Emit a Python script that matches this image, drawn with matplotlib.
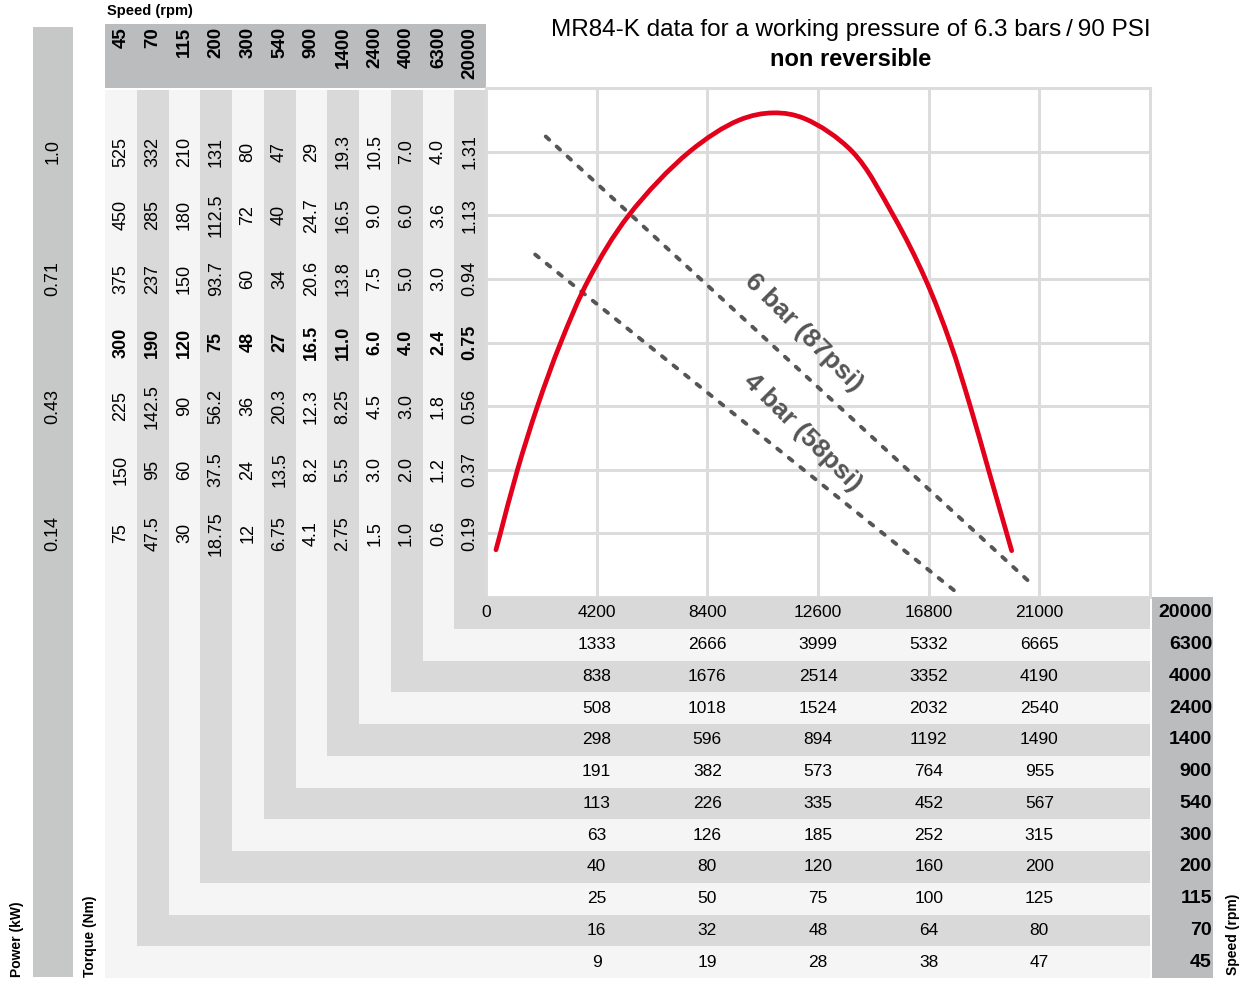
import matplotlib
matplotlib.use("Agg")
import numpy as np
import matplotlib.pyplot as plt
from matplotlib.patches import Rectangle, PathPatch
from matplotlib.path import Path
from matplotlib.transforms import blended_transform_factory

plt.rcParams['font.family'] = ['Liberation Sans', 'DejaVu Sans']

# speed variants (rpm), slowest first
speeds = ["45", "70", "115", "200", "300", "540", "900", "1400", "2400", "4000", "6300", "20000"]

# torque (Nm) per speed variant, at grid lines 1..7 from the bottom
torque = [
    ["75", "150", "225", "300", "375", "450", "525"],
    ["47.5", "95", "142.5", "190", "237", "285", "332"],
    ["30", "60", "90", "120", "150", "180", "210"],
    ["18.75", "37.5", "56.2", "75", "93.7", "112.5", "131"],
    ["12", "24", "36", "48", "60", "72", "80"],
    ["6.75", "13.5", "20.3", "27", "34", "40", "47"],
    ["4.1", "8.2", "12.3", "16.5", "20.6", "24.7", "29"],
    ["2.75", "5.5", "8.25", "11.0", "13.8", "16.5", "19.3"],
    ["1.5", "3.0", "4.5", "6.0", "7.5", "9.0", "10.5"],
    ["1.0", "2.0", "3.0", "4.0", "5.0", "6.0", "7.0"],
    ["0.6", "1.2", "1.8", "2.4", "3.0", "3.6", "4.0"],
    ["0.19", "0.37", "0.56", "0.75", "0.94", "1.13", "1.31"],
]

# speed (rpm) per variant, at vertical grid lines 1..5
speed_rows = [
    ["9", "19", "28", "38", "47"],
    ["16", "32", "48", "64", "80"],
    ["25", "50", "75", "100", "125"],
    ["40", "80", "120", "160", "200"],
    ["63", "126", "185", "252", "315"],
    ["113", "226", "335", "452", "567"],
    ["191", "382", "573", "764", "955"],
    ["298", "596", "894", "1192", "1490"],
    ["508", "1018", "1524", "2032", "2540"],
    ["838", "1676", "2514", "3352", "4190"],
    ["1333", "2666", "3999", "5332", "6665"],
    ["4200", "8400", "12600", "16800", "21000"],
]
x_ticks = [0, 4200, 8400, 12600, 16800, 21000, 25200]

power_ticks = [1 / 7, 3 / 7, 5 / 7, 1.0]
power_labels = ["0.14", "0.43", "0.71", "1.0"]

# power curve for the 20000 rpm variant (speed rpm, power kW)
curve_speed = [378, 546, 1197, 1957, 2835, 3906, 5418, 7728, 9618, 10920, 12096,
               13902, 15456, 16674, 17619, 18375, 19068, 19761, 19950]
curve_power = [0.106, 0.143, 0.286, 0.429, 0.571, 0.714, 0.857, 1.0, 1.071, 1.087,
               1.074, 1.0, 0.857, 0.714, 0.571, 0.429, 0.286, 0.143, 0.104]

# air pressure lines
bar6_speed = [2268, 20622]
bar6_power = [1.034, 0.034]
bar4_speed = [1865, 17783]
bar4_power = [0.769, 0.014]

light = '#f5f5f5'
dark = '#d9d9d9'
header = '#bbbcbe'
grid = '#dcdcdc'


def smooth_path(xs, ys, sx, sy):
    # centripetal Catmull-Rom through the read points, as cubic Bezier segments;
    # sx, sy bring both axes to a similar (pixel-like) scale for the knot spacing
    p = np.column_stack([np.asarray(xs) * sx, np.asarray(ys) * sy]).astype(float)
    ext = np.vstack([2 * p[0] - p[1], p, 2 * p[-1] - p[-2]])
    t = np.concatenate([[0], np.cumsum(np.linalg.norm(np.diff(ext, axis=0), axis=1) ** 0.5)])
    verts = [p[0]]
    codes = [Path.MOVETO]
    for i in range(1, len(ext) - 2):
        p0, p1, p2, p3 = ext[i - 1:i + 3]
        t0, t1, t2, t3 = t[i - 1:i + 3]
        m1 = (t2 - t1) * ((p1 - p0) / (t1 - t0) - (p2 - p0) / (t2 - t0) + (p2 - p1) / (t2 - t1))
        m2 = (t2 - t1) * ((p2 - p1) / (t2 - t1) - (p3 - p1) / (t3 - t1) + (p3 - p2) / (t3 - t2))
        verts += [p1 + m1 / 3, p2 - m2 / 3, p2]
        codes += [Path.CURVE4] * 3
    verts = np.array(verts) / [sx, sy]
    return Path(verts, codes)


fig = plt.figure(figsize=(12.48, 9.83), dpi=100)
bg = fig.add_axes([0, 0, 1, 1])
bg.set_xlim(0, 1248)
bg.set_ylim(983, 0)
bg.axis('off')

# layout in pixels
left, plot_l, plot_r = 105, 486, 1150
plot_t, plot_b, bottom = 88, 597, 978
col_w = (plot_l - left) / len(speeds)
row_h = (bottom - plot_b) / len(speeds)

ax = fig.add_axes([plot_l / 1248, 1 - plot_b / 983,
                   (plot_r - plot_l) / 1248, (plot_b - plot_t) / 983])
ax.set_xlim(0, 25200)
ax.set_ylim(0, 8 / 7)
ax.set_xticks(x_ticks)
ax.set_yticks([k / 7 for k in range(9)])
ax.tick_params(length=0, labelbottom=False, labelleft=False)
ax.grid(True, color=grid, lw=2.2)
ax.set_axisbelow(True)
for side in ['left', 'bottom']:
    ax.spines[side].set_visible(False)
for side in ['top', 'right']:
    ax.spines[side].set_color(grid)
    ax.spines[side].set_linewidth(2.2)

# nested L-shaped bands
for k in range(len(speeds)):
    x0 = left + k * col_w
    y1 = bottom - k * row_h
    bg.add_patch(Rectangle((x0, plot_t + 2), plot_r - x0, y1 - plot_t - 2,
                           color=light if k % 2 == 0 else dark, lw=0))

# header and side bands
bg.add_patch(Rectangle((left, 24), plot_l - left, plot_t - 24, color=header, lw=0))
bg.add_patch(Rectangle((plot_r + 2, plot_b), 61, bottom - plot_b, color=header, lw=0))
bg.add_patch(Rectangle((33, 27), 40, 950, color='#c6c7c7', lw=0))

col_y = blended_transform_factory(bg.transData, ax.transData)
row_x = blended_transform_factory(ax.transData, bg.transData)

for k, s in enumerate(speeds):
    xc = left + (k + 0.5) * col_w
    bg.text(xc, 27, s, rotation=90, ha='center', va='top', fontsize=13.5,
            fontweight='bold')
    for i, v in enumerate(torque[k]):
        bg.text(xc, (i + 1) / 7, v, transform=col_y, rotation=90, ha='center',
                va='center', fontsize=13, fontweight='bold' if i == 3 else 'normal')
    yc = bottom - (k + 0.5) * row_h
    for j, v in enumerate(speed_rows[k]):
        bg.text(x_ticks[j + 1], yc, v, transform=row_x, ha='center', va='center',
                fontsize=12.5)
    bg.text(1212, yc, s, ha='right', va='center', fontsize=14, fontweight='bold')

bg.text(0, bottom - 11.5 * row_h, "0", transform=row_x, ha='center', va='center',
        fontsize=12.5)

for p, lab in zip(power_ticks, power_labels):
    bg.text(53, p, lab, transform=col_y, rotation=90, ha='center', va='center',
            fontsize=13)

bg.text(107, 11, "Speed (rpm)", ha='left', va='center', fontsize=10.5, fontweight='bold')
bg.text(17, 977, "Power (kW)", rotation=90, ha='center', va='bottom', fontsize=10,
        fontweight='bold')
bg.text(90, 977, "Torque (Nm)", rotation=90, ha='center', va='bottom', fontsize=10,
        fontweight='bold')
bg.text(1233, 975, "Speed (rpm)", rotation=90, ha='center', va='bottom', fontsize=10,
        fontweight='bold')

bg.text(851, 30, "MR84-K data for a working pressure of 6.3 bars\u2009/\u200990 PSI",
        ha='center', va='center', fontsize=17.5)
bg.text(851, 59, "non reversible", ha='center', va='center', fontsize=17,
        fontweight='bold')

# curves
ax.add_patch(PathPatch(smooth_path(curve_speed, curve_power, 111 / 4200, 7 * 63.6),
                       fill=False, edgecolor='#e2001a', lw=3.4, capstyle='round',
                       joinstyle='round', zorder=3))
for xs, ys in [(bar6_speed, bar6_power), (bar4_speed, bar4_power)]:
    ax.plot(xs, ys, color='#555555', lw=2.8, dashes=(1.2, 2.6),
            dash_capstyle='round', zorder=2)

ax.text(12054, 0.593, "6 bar (87psi)", rotation=-45, rotation_mode='anchor',
        ha='center', va='center', fontsize=19, fontweight='bold', color='#555555')
ax.text(12012, 0.369, "4 bar (58psi)", rotation=-45, rotation_mode='anchor',
        ha='center', va='center', fontsize=19, fontweight='bold', color='#555555')

fig.savefig("out.png", dpi=100)
